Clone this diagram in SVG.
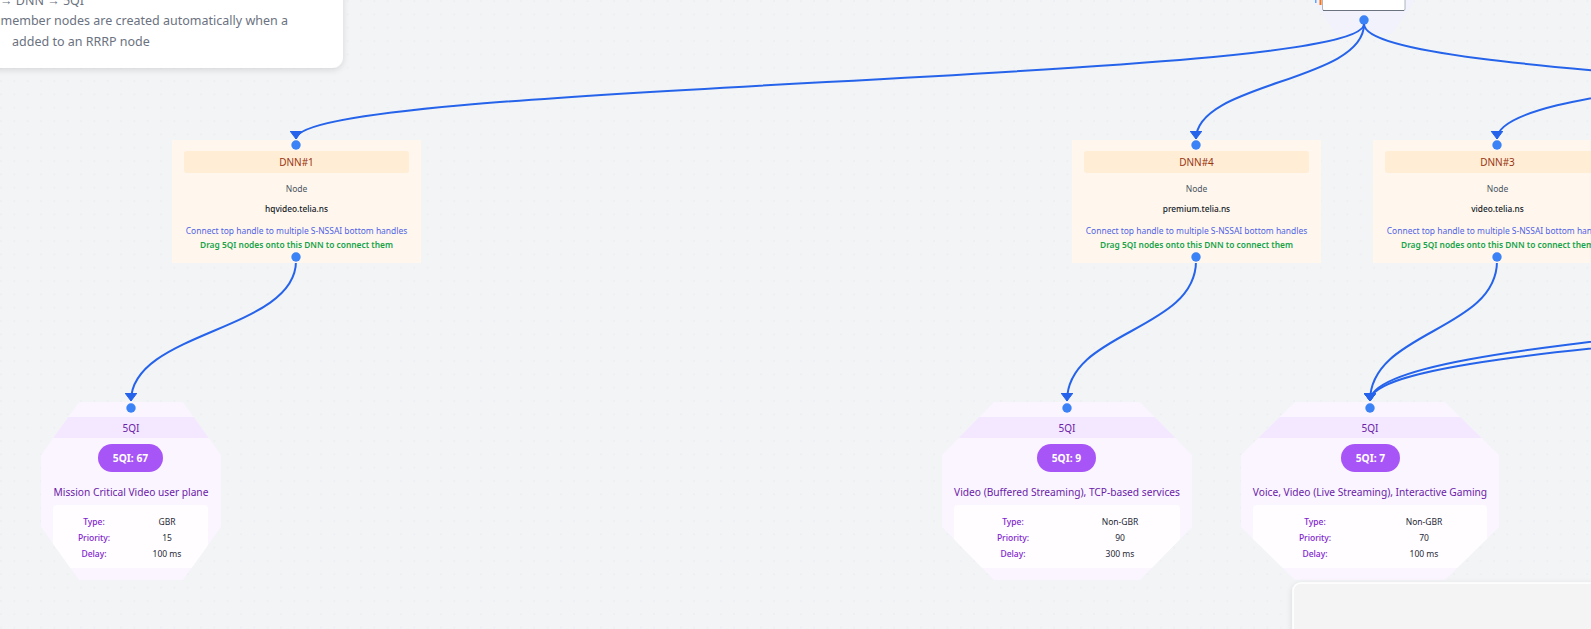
<svg xmlns="http://www.w3.org/2000/svg" width="1591" height="629" viewBox="0 0 1591 629">
<style>
text{font-family:"Noto Sans","Liberation Sans",sans-serif}
.bg{fill:#f3f4f6}
.edge{fill:none;stroke:#2563eb;stroke-width:2}
.h{fill:#3b82f6}
.dnn{fill:#fff7ed}
.dnnh{fill:#ffedd5}
.dt{font-size:10px;fill:#9a3412;text-anchor:middle;dominant-baseline:central}
.dn{font-size:8.5px;fill:#4b5563;text-anchor:middle;dominant-baseline:central}
.dv{font-size:8.3px;fill:#111827;font-weight:500;text-anchor:middle;dominant-baseline:central}
.dc{font-size:8.45px;fill:#4f63e6;text-anchor:middle;dominant-baseline:central}
.dg{font-size:8.4px;fill:#16a34a;font-weight:600;text-anchor:middle;dominant-baseline:central}
.q{fill:#faf5ff}
.qh{fill:#f3e8ff}
.qt{font-size:10px;fill:#6b21a8;text-anchor:middle;dominant-baseline:central}
.pill{fill:#a855f7}
.pt{font-size:10.3px;fill:#ffffff;font-weight:700;text-anchor:middle;dominant-baseline:central}
.qd{font-size:10.2px;fill:#6b21a8;text-anchor:middle;dominant-baseline:central}
.tb{fill:#fffdff}
.tl{font-size:8.5px;fill:#7e22ce;font-weight:500;text-anchor:middle;dominant-baseline:central}
.tv{font-size:8.5px;fill:#1f2937;text-anchor:middle;dominant-baseline:central}
.pn{font-size:12.5px;fill:#6b7280}
</style>
<defs>
<pattern id="dots" width="13.33" height="13.33" patternUnits="userSpaceOnUse">
<circle cx="1" cy="1" r="0.6" fill="#dde0e5"/>
</pattern>
<marker id="arr" viewBox="0 0 8 12" refX="8" refY="6" markerWidth="8" markerHeight="12" markerUnits="userSpaceOnUse" orient="auto">
<path d="M0,0 L8,6 L0,12 z" fill="#2563eb" stroke="#2563eb" stroke-linejoin="round" stroke-width="1"/>
</marker>
<filter id="sh" x="-20%" y="-40%" width="140%" height="200%">
<feDropShadow dx="0" dy="2" stdDeviation="3" flood-color="#000" flood-opacity="0.12"/>
</filter>
<clipPath id="c1"><polygon points="79,402 183,402 221,455 221,527 183,580 79,580 41,527 41,455"/></clipPath>
<clipPath id="c2"><polygon points="994,402 1140,402 1192,455 1192,527 1140,580 994,580 942,527 942,455"/></clipPath>
<clipPath id="c3"><polygon points="1295,402 1445,402 1499,455 1499,527 1445,580 1295,580 1241,527 1241,455"/></clipPath>
</defs>
<rect class="bg" x="0" y="0" width="1591" height="629"/>
<rect x="0" y="0" width="1591" height="629" fill="url(#dots)"/>

<g id="info-panel">
<rect x="-20" y="-20" width="363" height="88" rx="11" fill="#ffffff" filter="url(#sh)"/>
<text class="pn" x="0" y="5">→ DNN → 5QI</text>
<text class="pn" x="0.5" y="24.5">member nodes are created automatically when a</text>
<text class="pn" x="12" y="45.5">added to an RRRP node</text>
</g>

<g id="top-node">
<polygon points="1313,0 1415,0 1392,34 1336,34" fill="#f1f2fc"/>
<rect x="1322" y="-4" width="83" height="14.5" rx="2" fill="#ffffff"/>
<path d="M1322.5,-4 V9 Q1322.5,10.5 1324,10.5 H1403.5 Q1405,10.5 1405,9 V-4" fill="none" stroke="#9ca3af" stroke-width="0.8"/>
<path d="M1323,10.5 H1404" stroke="#6b7280" stroke-width="1.2"/>
<rect x="1315" y="0" width="1.5" height="3" fill="#60a5fa"/>
<rect x="1319.5" y="0" width="2" height="5" fill="#f97316"/>
<circle class="h" cx="1364" cy="20" r="4.7"/>
</g>

<g id="connectors">
<path class="edge" d="M1364,24 C1364,82 296,82 296,139" marker-end="url(#arr)"/>
<path class="edge" d="M1364,24 C1364,82 1196,82 1196,139" marker-end="url(#arr)"/>
<path class="edge" d="M1364,24 C1364,82 2099,82 2099,139"/>
<path class="edge" d="M1885,24 C1885,82 1497,82 1497,139" marker-end="url(#arr)"/>
<path class="edge" d="M296,261 C296,331 131,331 131,401" marker-end="url(#arr)"/>
<path class="edge" d="M1196,261 C1196,331 1067,331 1067,401" marker-end="url(#arr)"/>
<path class="edge" d="M1497,261 C1497,331 1370,331 1370,401" marker-end="url(#arr)"/>
<path class="edge" d="M2000,261 C2000,331 1370,331 1370,401" marker-end="url(#arr)"/>
<path class="edge" d="M2200,261 C2200,331 1370,331 1370,401" marker-end="url(#arr)"/>
</g>

<g id="dnn1">
<rect class="dnn" x="172" y="140" width="249" height="123"/>
<rect class="dnnh" x="184" y="151" width="225" height="22" rx="3"/>
<text class="dt" x="296.5" y="162">DNN#1</text>
<text class="dn" x="296.5" y="188">Node</text>
<text class="dv" x="296.5" y="208">hqvideo.telia.ns</text>
<text class="dc" x="296.5" y="230">Connect top handle to multiple S-NSSAI bottom handles</text>
<text class="dg" x="296.5" y="244">Drag 5QI nodes onto this DNN to connect them</text>
<circle class="h" cx="296" cy="145" r="4.7"/>
<circle class="h" cx="296" cy="257" r="4.7"/>
</g>

<g id="dnn4">
<rect class="dnn" x="1072" y="140" width="249" height="123"/>
<rect class="dnnh" x="1084" y="151" width="225" height="22" rx="3"/>
<text class="dt" x="1196.5" y="162">DNN#4</text>
<text class="dn" x="1196.5" y="188">Node</text>
<text class="dv" x="1196.5" y="208">premium.telia.ns</text>
<text class="dc" x="1196.5" y="230">Connect top handle to multiple S-NSSAI bottom handles</text>
<text class="dg" x="1196.5" y="244">Drag 5QI nodes onto this DNN to connect them</text>
<circle class="h" cx="1196" cy="145" r="4.7"/>
<circle class="h" cx="1196" cy="257" r="4.7"/>
</g>

<g id="dnn3">
<rect class="dnn" x="1373" y="140" width="249" height="123"/>
<rect class="dnnh" x="1385" y="151" width="225" height="22" rx="3"/>
<text class="dt" x="1497.5" y="162">DNN#3</text>
<text class="dn" x="1497.5" y="188">Node</text>
<text class="dv" x="1497.5" y="208">video.telia.ns</text>
<text class="dc" x="1497.5" y="230">Connect top handle to multiple S-NSSAI bottom handles</text>
<text class="dg" x="1497.5" y="244">Drag 5QI nodes onto this DNN to connect them</text>
<circle class="h" cx="1497" cy="145" r="4.7"/>
<circle class="h" cx="1497" cy="257" r="4.7"/>
</g>

<g id="qi67">
<g clip-path="url(#c1)">
<rect class="q" x="41" y="402" width="180" height="178"/>
<rect class="qh" x="41" y="417" width="180" height="21"/>
<rect class="tb" x="53" y="505" width="155" height="63" rx="4"/>
</g>
<text class="qt" x="131" y="428">5QI</text>
<rect class="pill" x="98" y="444" width="65" height="28" rx="14"/>
<text class="pt" x="130.5" y="458">5QI: 67</text>
<text class="qd" x="131" y="492">Mission Critical Video user plane</text>
<text class="tl" x="94" y="521">Type:</text><text class="tv" x="167" y="521">GBR</text>
<text class="tl" x="94" y="537">Priority:</text><text class="tv" x="167" y="537">15</text>
<text class="tl" x="94" y="553">Delay:</text><text class="tv" x="167" y="553">100 ms</text>
<circle class="h" cx="131" cy="408" r="4.7"/>
</g>

<g id="qi9">
<g clip-path="url(#c2)">
<rect class="q" x="942" y="402" width="250" height="178"/>
<rect class="qh" x="942" y="417" width="250" height="21"/>
<rect class="tb" x="954" y="505" width="226" height="63" rx="4"/>
</g>
<text class="qt" x="1067" y="428">5QI</text>
<rect class="pill" x="1037" y="444" width="59" height="28" rx="14"/>
<text class="pt" x="1066.5" y="458">5QI: 9</text>
<text class="qd" x="1067" y="492">Video (Buffered Streaming), TCP-based services</text>
<text class="tl" x="1013" y="521">Type:</text><text class="tv" x="1120" y="521">Non-GBR</text>
<text class="tl" x="1013" y="537">Priority:</text><text class="tv" x="1120" y="537">90</text>
<text class="tl" x="1013" y="553">Delay:</text><text class="tv" x="1120" y="553">300 ms</text>
<circle class="h" cx="1067" cy="408" r="4.7"/>
</g>

<g id="qi7">
<g clip-path="url(#c3)">
<rect class="q" x="1241" y="402" width="258" height="178"/>
<rect class="qh" x="1241" y="417" width="258" height="21"/>
<rect class="tb" x="1253" y="505" width="234" height="63" rx="4"/>
</g>
<text class="qt" x="1370" y="428">5QI</text>
<rect class="pill" x="1341" y="444" width="59" height="28" rx="14"/>
<text class="pt" x="1370.5" y="458">5QI: 7</text>
<text class="qd" x="1370" y="492">Voice, Video (Live Streaming), Interactive Gaming</text>
<text class="tl" x="1315" y="521">Type:</text><text class="tv" x="1424" y="521">Non-GBR</text>
<text class="tl" x="1315" y="537">Priority:</text><text class="tv" x="1424" y="537">70</text>
<text class="tl" x="1315" y="553">Delay:</text><text class="tv" x="1424" y="553">100 ms</text>
<circle class="h" cx="1370" cy="408" r="4.7"/>
</g>

<g id="minimap">
<rect x="1293" y="583" width="330" height="70" rx="8" fill="#f4f4f5" stroke="#ffffff" stroke-width="1.5" filter="url(#sh)"/>
</g>
</svg>
